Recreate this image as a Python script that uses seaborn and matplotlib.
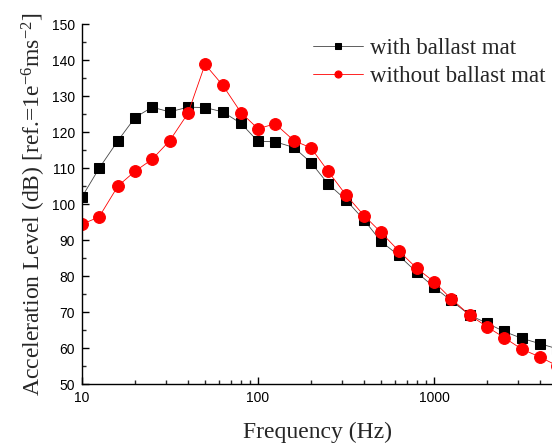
import matplotlib
matplotlib.use("Agg")
import matplotlib.pyplot as plt
import matplotlib.ticker as mticker
import seaborn as sns
import pandas as pd

# 1/3 octave band centre frequencies (Hz)
freq = [10, 12.5, 16, 20, 25, 31.5, 40, 50, 63, 80, 100, 125, 160, 200, 250,
        315, 400, 500, 630, 800, 1000, 1250, 1600, 2000, 2500, 3150, 4000, 5000]

with_mat = [102.0, 109.9, 117.6, 124.0, 126.9, 125.6, 126.9, 126.8, 125.6, 122.4,
            117.4, 117.3, 115.7, 111.5, 105.6, 101.2, 95.6, 89.6, 85.7, 81.0,
            76.9, 73.2, 69.1, 66.9, 64.6, 62.7, 61.2, 59.8]

without_mat = [94.4, 96.4, 105.0, 109.1, 112.4, 117.6, 125.2, 138.8, 133.0, 125.4,
               120.9, 122.3, 117.6, 115.6, 109.1, 102.6, 96.8, 92.1, 87.0, 82.1,
               78.4, 73.7, 69.1, 65.9, 62.9, 59.7, 57.5, 55.1]

labels = ["with ballast mat", "without ballast mat"]

df = pd.DataFrame({"freq": freq * 2,
                   "level": with_mat + without_mat,
                   "series": [labels[0]] * len(freq) + [labels[1]] * len(freq)})

sns.set_style("ticks")
plt.rcParams["mathtext.fontset"] = "custom"
plt.rcParams["mathtext.rm"] = "Liberation Serif"
plt.rcParams["mathtext.it"] = "Liberation Serif:italic"

fig = plt.figure(figsize=(5.52, 4.44), dpi=100)
ax = fig.add_axes([0.1486, 0.1351, 0.8514, 0.8108])

sns.lineplot(data=df[df.series == labels[0]], x="freq", y="level", ax=ax,
             color="#444444", marker="s", markersize=7, markerfacecolor="black",
             markeredgecolor="black", linewidth=0.6, label=labels[0])
sns.lineplot(data=df[df.series == labels[1]], x="freq", y="level", ax=ax,
             color="red", marker="o", markersize=8.5, markeredgecolor="red",
             linewidth=0.6, label=labels[1])

ax.set_xscale("log")
ax.set_xlim(10, 4680)
ax.set_ylim(50, 150)
ax.yaxis.set_major_locator(mticker.MultipleLocator(10))
ax.yaxis.set_minor_locator(mticker.MultipleLocator(5))
ax.xaxis.set_major_locator(mticker.LogLocator(base=10))
ax.xaxis.set_major_formatter(mticker.FuncFormatter(lambda v, p: f"{v:g}"))
ax.xaxis.set_minor_locator(mticker.LogLocator(base=10, subs=range(2, 10)))
ax.xaxis.set_minor_formatter(mticker.NullFormatter())

for s in ["top", "right"]:
    ax.spines[s].set_visible(False)
for s in ["left", "bottom"]:
    ax.spines[s].set_linewidth(1.0)
    ax.spines[s].set_color("black")

ax.tick_params(which="major", direction="in", length=5, width=1.0, pad=5,
               labelsize=10, colors="black")
ax.tick_params(which="minor", direction="in", length=3, width=1.0)
for t in ax.get_xticklabels() + ax.get_yticklabels():
    t.set_family("Liberation Sans")

ax.set_xlabel("Frequency (Hz)", family="Liberation Serif", fontsize=17, labelpad=12)
ax.set_ylabel("Acceleration Level (dB) [ref.=1e$^{-6}$ms$^{-2}$]",
              family="Liberation Serif", fontsize=17, labelpad=3)

leg = ax.legend(loc="upper right", bbox_to_anchor=(1.016, 1.0), frameon=False,
                prop={"family": "Liberation Serif", "size": 16.5},
                handlelength=2.2, handletextpad=0.3, labelspacing=0.3,
                markerscale=0.6, borderaxespad=0.2)

fig.savefig("out.png", dpi=100)
